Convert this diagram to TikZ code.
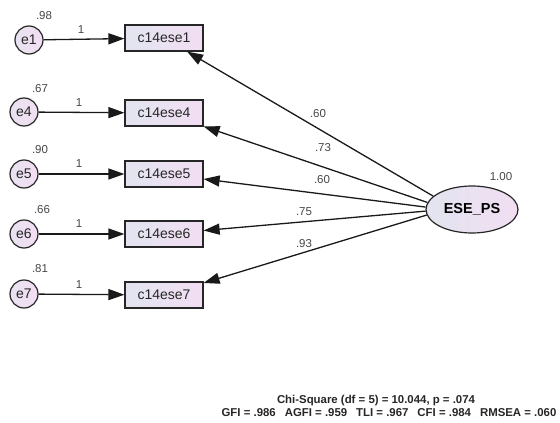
\documentclass[tikz,border=0pt]{standalone}
\usepackage{fontspec}
\setmainfont{Liberation Sans}
\usetikzlibrary{arrows.meta,shapes.geometric}
\definecolor{lblgray}{RGB}{70,70,70}
\definecolor{fillL}{RGB}{226,228,240}
\definecolor{fillR}{RGB}{242,222,242}
\tikzset{
  obs/.style={draw=black!85, line width=1.2pt, minimum width=78pt, minimum height=26pt, inner sep=0pt,
    left color=fillL, right color=fillR, text=black!85, font=\fontsize{14}{16}\selectfont},
  err/.style={circle, draw=black!85, line width=1.2pt, minimum size=28pt, inner sep=0pt,
    left color=fillL!60!fillR, right color=fillR, text=black!85, font=\fontsize{14}{16}\selectfont},
  lat/.style={ellipse, draw=black!85, line width=1.2pt, minimum width=92pt, minimum height=47pt, inner sep=0pt,
    left color=fillL, right color=fillR, font=\bfseries\fontsize{14.5}{16}\selectfont},
  lbl/.style={text=lblgray, font=\fontsize{11.5}{13}\selectfont, inner sep=0pt},
  arr/.style={draw=black!90, line width=1.3pt, -{Triangle[length=16pt,width=11pt]}},
  fit/.style={font=\bfseries\fontsize{11.4}{13}\selectfont, inner sep=0pt, text=black!85}
}
\begin{document}
\begin{tikzpicture}[x=1pt,y=-1pt]
\useasboundingbox (0,0) rectangle (560,423);
% observed
\node[obs] (c1) at (164,38) {c14ese1};
\node[obs] (c4) at (164,113) {c14ese4};
\node[obs] (c5) at (164,174) {c14ese5};
\node[obs] (c6) at (164,234) {c14ese6};
\node[obs] (c7) at (164,295) {c14ese7};
% errors
\node[err] (e1) at (29,40) {e1};
\node[err] (e4) at (24,112) {e4};
\node[err] (e5) at (24,174) {e5};
\node[err] (e6) at (24,234) {e6};
\node[err] (e7) at (24,294) {e7};
% latent
\node[lat] (ese) at (472,209.5) {ESE\_PS};
% error arrows
\draw[arr] (e1) -- (c1);
\draw[arr] (e4) -- (c4);
\draw[arr] (e5) -- (c5);
\draw[arr] (e6) -- (c6);
\draw[arr] (e7) -- (c7);
% loadings
\draw[arr] (ese.161) -- (c1);
\draw[arr] (ese.171) -- (c4);
\draw[arr] (ese.177) -- (c5);
\draw[arr] (ese.182) -- (c6);
\draw[arr] (ese.187) -- (c7);
% variance labels
\node[lbl] (v1) at (44,16) {.98};
\node[lbl] (v4) at (40,89) {.67};
\node[lbl] (v5) at (40,150) {.90};
\node[lbl] (v6) at (42,210) {.66};
\node[lbl] (v7) at (40,269) {.81};
\node[lbl] (v0) at (501,177) {1.00};
% fixed 1 labels
\node[lbl] (o1) at (81,30) {1};
\node[lbl] (o4) at (79,103) {1};
\node[lbl] (o5) at (79,164) {1};
\node[lbl] (o6) at (79,224) {1};
\node[lbl] (o7) at (79,285) {1};
% loading labels
\node[lbl] (l1) at (318,114) {.60};
\node[lbl] (l4) at (323,148) {.73};
\node[lbl] (l5) at (322,180) {.60};
\node[lbl] (l6) at (304,212) {.75};
\node[lbl] (l7) at (304,244) {.93};
% fit
\node[fit] (chi) at (376,401) {Chi-Square (df = 5) = 10.044, p = .074};
\node[fit] (gfi) at (389,412.5) {GFI = .986\hspace{9pt}AGFI = .959\hspace{9pt}TLI = .967\hspace{9pt}CFI = .984\hspace{9pt}RMSEA = .060};
\end{tikzpicture}
\end{document}
